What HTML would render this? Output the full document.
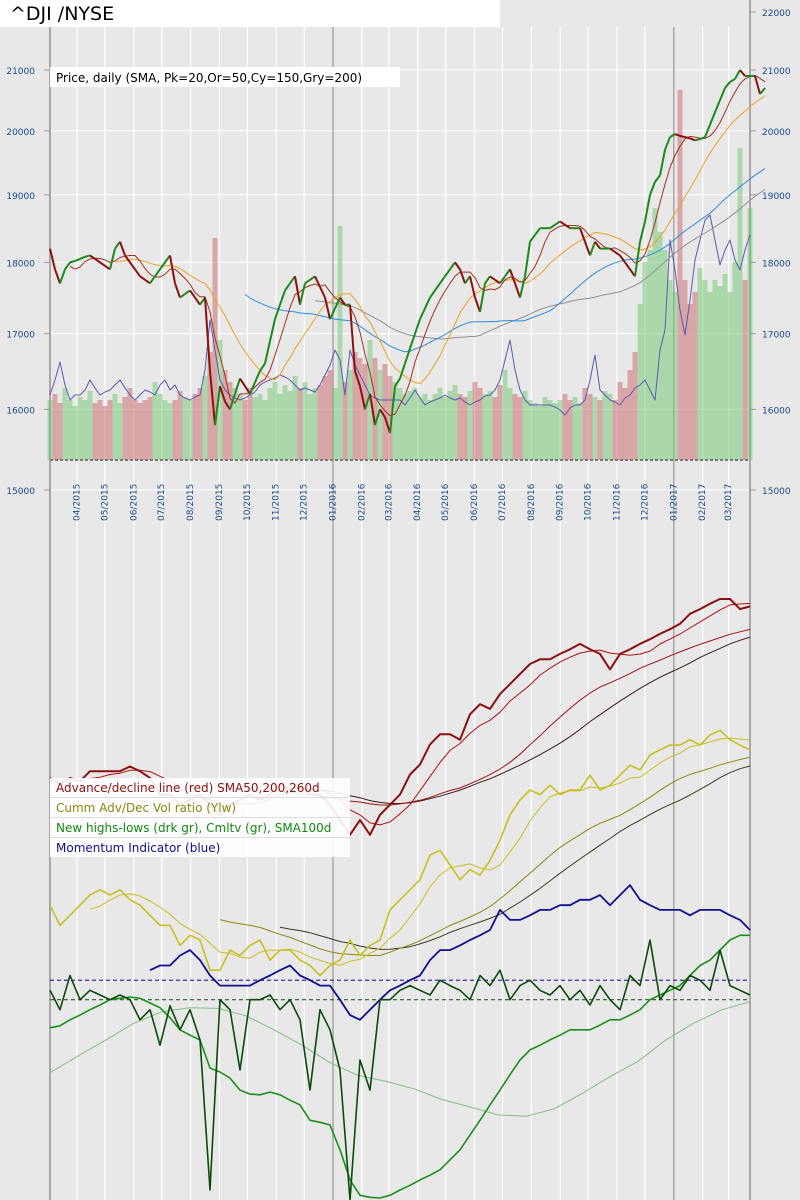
<!DOCTYPE html>
<html><head><meta charset="utf-8">
<style>
html,body{margin:0;padding:0;background:#e8e8e8;}
svg{display:block;font-family:"DejaVu Sans","Liberation Sans",sans-serif;}
</style></head>
<body>
<svg id="chart" width="800" height="1200" viewBox="0 0 800 1200" xmlns="http://www.w3.org/2000/svg">
<rect x="0" y="0" width="800" height="1200" fill="#e8e8e8"/>
<g id="grid"></g>
<g id="volume"></g>
<g id="top"></g>
<g id="bottom"></g>
<g id="axes"></g>
<rect x="0" y="0" width="500" height="27" fill="#fff"/>
<text x="10" y="20" font-size="19" fill="#000">^DJI /NYSE</text>
<g>
<rect x="50" y="67" width="350" height="20" fill="#fff"/>
<text x="56" y="82" font-size="12" fill="#000">Price, daily (SMA, Pk=20,Or=50,Cy=150,Gry=200)</text>
</g>
<g>
<rect x="50" y="778" width="300" height="79" fill="#fff" fill-opacity="0.9"/>
<line x1="50" y1="797.5" x2="350" y2="797.5" stroke="#ddd"/>
<line x1="50" y1="817.5" x2="350" y2="817.5" stroke="#ddd"/>
<line x1="50" y1="837.5" x2="350" y2="837.5" stroke="#ddd"/>
<text x="56" y="792" font-size="12" fill="#8b1010">Advance/decline line (red) SMA50,200,260d</text>
<text x="56" y="812" font-size="12" fill="#8a8a10">Cumm Adv/Dec Vol ratio (Ylw)</text>
<text x="56" y="832" font-size="12" fill="#108a10">New highs-lows (drk gr), Cmltv (gr), SMA100d</text>
<text x="56" y="852" font-size="12" fill="#10108a">Momentum Indicator (blue)</text>
</g>
</svg>
<script>
// ---------- DATA ----------
// price closes, one every ~5.4 calendar days starting 2015-03-03
const priceClose = [18200,17900,17700,17900,18000,18020,18050,18080,18100,18050,18000,17950,17900,18200,18300,18100,18000,17900,17800,17750,17700,17800,17900,18000,18100,17700,17500,17550,17600,17500,17400,17500,16500,15800,16300,16100,16000,16200,16400,16300,16200,16350,16500,16600,16900,17200,17400,17600,17700,17800,17400,17700,17750,17800,17650,17500,17200,17350,17500,17400,17400,16500,16300,16000,16200,15800,16000,15900,15700,16300,16400,16600,16800,17000,17200,17350,17500,17600,17700,17800,17900,18000,17900,17700,17800,17500,17300,17700,17800,17750,17700,17800,17900,17700,17500,17800,18300,18400,18500,18500,18500,18550,18600,18550,18500,18500,18500,18300,18100,18300,18200,18200,18200,18150,18100,18000,17900,17800,18300,18600,19000,19200,19300,19700,19900,19950,19920,19900,19880,19850,19870,19900,20100,20300,20500,20700,20800,20850,21000,20900,20900,20900,20600,20700];
// volume (millions, approx) aligned with priceClose
const volume = [100,110,95,120,100,90,105,100,115,95,100,90,100,110,95,105,120,100,95,100,105,130,110,100,95,100,115,105,100,110,120,140,180,370,200,150,130,120,110,100,120,105,110,100,120,130,110,125,115,140,120,130,110,120,125,140,150,120,390,130,150,180,170,160,200,170,150,160,140,130,120,110,115,120,105,110,100,110,120,105,115,125,110,105,115,130,120,110,115,105,125,150,120,110,105,115,100,95,90,105,100,95,100,110,100,105,95,120,110,105,100,115,110,100,130,120,150,180,260,330,350,420,380,350,300,280,617,300,260,280,320,300,280,300,290,310,280,330,520,300,420];
// top-panel momentum oscillator (units above baseline)
const topMomentum = [15,30,48,25,10,15,15,20,30,22,15,18,20,25,30,22,15,10,15,20,18,15,25,30,20,25,15,12,10,13,15,40,90,60,30,20,15,12,10,12,15,18,25,28,30,32,35,33,30,25,20,22,20,18,25,35,45,60,50,15,60,45,35,25,15,12,10,10,10,10,10,5,12,20,12,5,8,10,12,15,12,10,12,8,5,8,10,14,15,20,30,50,70,40,20,10,5,5,5,5,5,3,0,-5,2,5,5,10,30,55,20,15,10,8,5,12,15,22,25,30,20,10,60,80,170,140,100,75,110,150,170,190,195,170,145,160,170,150,140,160,175];
// bottom panel series (value units, one point every ~10.7 calendar days)
const adLine = [63,62,63,62.5,64,64,64,64,64.7,64,63,60.5,60.5,59,59.7,60.5,59,57.5,59,59.7,60.5,59.7,60.5,62,61.3,62,60.5,60.5,59,56.7,54.5,56.7,54.5,57.5,59,60.5,63.5,65,68,69.5,69.5,68.7,72.5,74,73.3,75.5,77,78.5,80,80.7,80.7,81.5,82.2,83,82.2,81.5,79.2,81.5,82.2,83,83.7,84.5,85.2,86,87.5,88.2,89,89.7,89.7,88.2,88.6];
const cumVolRatio = [44,41,42.5,44,45.5,46.3,45.5,46.3,44.8,44,42.5,41,41,38,39.5,38.8,34.3,34.3,37.3,36.5,38,38.8,35.8,37.3,37.3,35.8,35,33.5,35,35.8,38.8,36.5,38,38.8,43.3,44.8,46.3,47.8,51.5,52.2,50,47.8,49.3,48.5,50.7,53.7,57.5,59.7,61.2,60.5,61.9,60.5,61.2,61.2,63.4,61.2,61.9,63.4,64.9,64.2,66.4,67.2,67.9,67.9,68.7,67.9,69.4,70.1,68.7,67.9,67.2];
const momentum = [null,null,null,null,null,null,null,null,null,null,34.3,35,35,36.5,37.3,35.8,33.5,32,32,32,32,32.8,33.5,34.3,35,33.5,32.8,32,32,29.9,27.6,26.9,28.4,29.9,31.3,32,32.8,33.5,35.8,37.3,37.3,38,38.8,39.5,40.3,43.3,41.8,41.8,42.5,43.3,43.3,44,44,44.8,44.8,45.5,44,45.5,47,44.8,44,43.3,43.3,43.3,42.5,43.3,43.3,43.3,42.5,41.8,40.3];
const newHighsLows = [31.3,28.4,33.5,29.9,31.3,30.6,29.9,30.6,29.9,26.9,28.4,23.1,29,25.4,28.4,23.9,1.5,29.9,28.4,19.4,29.9,29.9,30.6,28.4,29.9,26.9,16.4,28.4,25.4,19.4,0,20.9,16.4,29.9,29.9,31.3,32,31.3,30.6,32.8,32,31.3,29.9,33.5,32,34.3,29.9,32,32.8,31.3,30.6,32,29.9,31.3,29.1,32,29.9,28.4,33.5,32,38.8,29.9,32,31.3,33.5,32.8,31.3,37.3,32,31.3,30.6];
const cumHighsLows = [25.7,26,26.9,27.6,28.4,29.1,29.9,30.1,30.3,30.1,29.4,28.7,27.2,25.4,24.6,23.9,19.7,19.1,18.2,16.4,15.8,15.7,16.1,15.7,14.9,14.2,11.9,11.6,11.2,7.5,3,0.7,0.4,0.3,0.7,1.5,2.2,3,3.7,4.5,6,7.5,9.7,11.9,14.2,16.4,18.7,20.9,22.4,23.1,23.9,24.6,25.4,25.4,25.4,26.1,26.9,26.9,27.6,28.4,29.9,30.6,31.3,32,33.5,35,35.8,37.3,38.8,39.5,39.5];
const cumHLSma100 = [19,21.5,23.9,26.4,28.1,28.7,28.6,27.5,25.4,23.1,20.5,18.6,17.7,16.6,15,13.9,12.7,12.5,13.6,15.9,18.4,20.7,23.9,26.4,28.4,29.6];
// ---------- SCALES ----------
const X0=50, X1=750, PXPERDAY=0.931;
const start=new Date(2015,2,3);
const priceX=i=>X0+i*5;
const botX=i=>X0+i*10;
const smaX=i=>X0+i*28;
const priceY=p=>70+(Math.log(21000)-Math.log(p))*1248;
const volY=v=>460-v*0.6;
const topMomY=v=>410-v;
const botY=v=>1200-v*6.7;
const NS='http://www.w3.org/2000/svg';
function mk(parent,tag,attrs){const e=document.createElementNS(NS,tag);for(const k in attrs)e.setAttribute(k,attrs[k]);parent.appendChild(e);return e;}
function sma(arr,w){return arr.map((v,i)=>{if(i<w-1)return null;let s=0;for(let j=i-w+1;j<=i;j++)s+=arr[j];return s/w;});}
function poly(parent,arr,xf,yf,color,width,name){let d='';let pen=false;arr.forEach((v,i)=>{if(v===null||v===undefined){pen=false;return;}d+=(pen?'L':'M')+xf(i).toFixed(1)+','+yf(v).toFixed(1);pen=true;});
const p=mk(parent,'path',{d:d,fill:'none',stroke:color,'stroke-width':width,'stroke-linejoin':'round'});


return p;}
// ---------- GRID ----------
const grid=document.getElementById('grid');
const priceTicks=[15000,16000,17000,18000,19000,20000,21000];
priceTicks.forEach(t=>{const l=mk(grid,'line',{x1:X0,x2:X1,y1:priceY(t),y2:priceY(t),stroke:'#fff','stroke-width':1});

});
const monthLabels=[];
for(let m=3;m<=26;m++){const d=new Date(2015,m,1);monthLabels.push(d);}
monthLabels.forEach(d=>{const days=(d-start)/86400000;const x=X0+days*PXPERDAY;const yr=d.getMonth()===0;
const l=mk(grid,'line',{x1:x,x2:x,y1:27,y2:1200,stroke:yr?'#a8a8a8':'#fff','stroke-width':yr?1.5:1.2});


const lab=String(d.getMonth()+1).padStart(2,'0')+'/'+d.getFullYear();
const t=mk(grid,'text',{x:0,y:0,'font-size':'9',fill:'#174a8c',transform:'translate('+(x+2.5)+',521) rotate(-90)'});
t.textContent=lab;

});
mk(grid,'line',{x1:X0,x2:X0,y1:27,y2:1200,stroke:'#a8a8a8','stroke-width':2});
mk(grid,'line',{x1:X1,x2:X1,y1:0,y2:1200,stroke:'#a8a8a8','stroke-width':2});
// ---------- VOLUME ----------
const vg=document.getElementById('volume');
volume.forEach((v,i)=>{const up=i===0||priceClose[i]>=priceClose[i-1];
const r=mk(vg,'rect',{x:priceX(i)-2.5,y:volY(v),width:5,height:460-volY(v),fill:up?'rgba(110,200,110,0.5)':'rgba(200,100,100,0.5)'});

});
mk(vg,'line',{x1:X0,x2:X1,y1:460,y2:460,stroke:'#777','stroke-width':2,'stroke-dasharray':'3,2'});
// ---------- PRICE PANEL ----------
const tg=document.getElementById('top');
poly(tg,topMomentum,priceX,topMomY,'#5a5ab0',1,'top-momentum-line');
poly(tg,sma(priceClose,54),priceX,priceY,'#909090',1,'sma-200-gray');
poly(tg,sma(priceClose,40),priceX,priceY,'#2b8be0',1,'sma-150-blue');
poly(tg,sma(priceClose,14),priceX,priceY,'#f0a020',1,'sma-50-orange');
poly(tg,sma(priceClose,5),priceX,priceY,'#a03020',1,'sma-20-pink');
priceClose.forEach((p,i)=>{if(i===0)return;const up=p>=priceClose[i-1];
const l=mk(tg,'line',{x1:priceX(i-1),y1:priceY(priceClose[i-1]),x2:priceX(i),y2:priceY(p),stroke:up?'#1a8a1a':'#8b1010','stroke-width':2});

});
// ---------- BOTTOM PANEL ----------
const bg=document.getElementById('bottom');
mk(bg,'line',{x1:X0,x2:X1,y1:botY(32.8),y2:botY(32.8),stroke:'#3030a0','stroke-width':1.2,'stroke-dasharray':'4,3'});
mk(bg,'line',{x1:X0,x2:X1,y1:botY(29.9),y2:botY(29.9),stroke:'#2a5a2a','stroke-width':1.2,'stroke-dasharray':'4,3'});
poly(bg,cumHLSma100,smaX,botY,'#80c080',1,'cum-highs-lows-sma100');
poly(bg,cumHighsLows,botX,botY,'#1a901a',1.6,'cum-highs-lows');
poly(bg,sma(cumVolRatio,24),botX,botY,'#3a3a20',1,'cum-vol-sma260');
poly(bg,sma(cumVolRatio,18),botX,botY,'#8a8a10',1,'cum-vol-sma200');
poly(bg,sma(cumVolRatio,5),botX,botY,'#c8c020',1,'cum-vol-sma50');
poly(bg,cumVolRatio,botX,botY,'#c8c020',1.6,'cum-vol-ratio');
poly(bg,sma(adLine,24),botX,botY,'#3a1a1a',1,'ad-sma260');
poly(bg,sma(adLine,18),botX,botY,'#a01010',1,'ad-sma200');
poly(bg,sma(adLine,5),botX,botY,'#b01010',1,'ad-sma50');
poly(bg,adLine,botX,botY,'#8b1010',2,'ad-line');
poly(bg,momentum,botX,botY,'#101090',1.8,'momentum-line');
poly(bg,newHighsLows,botX,botY,'#0a4a0a',1.6,'new-highs-lows');
// ---------- AXES ----------
const ag=document.getElementById('axes');
[15000,16000,17000,18000,19000,20000,21000,22000].forEach(t=>{const y=priceY(t);
const a=mk(ag,'text',{x:35,y:y+4,'font-size':'9','text-anchor':'end',fill:'#174a8c'});a.textContent=t;


if(t<22000)mk(ag,'line',{x1:44,x2:50,y1:y,y2:y,stroke:'#999'});
const b=mk(ag,'text',{x:762,y:y+4,'font-size':'9',fill:'#174a8c'});b.textContent=t;


mk(ag,'line',{x1:750,x2:756,y1:y,y2:y,stroke:'#999'});});
</script>
</body></html>
